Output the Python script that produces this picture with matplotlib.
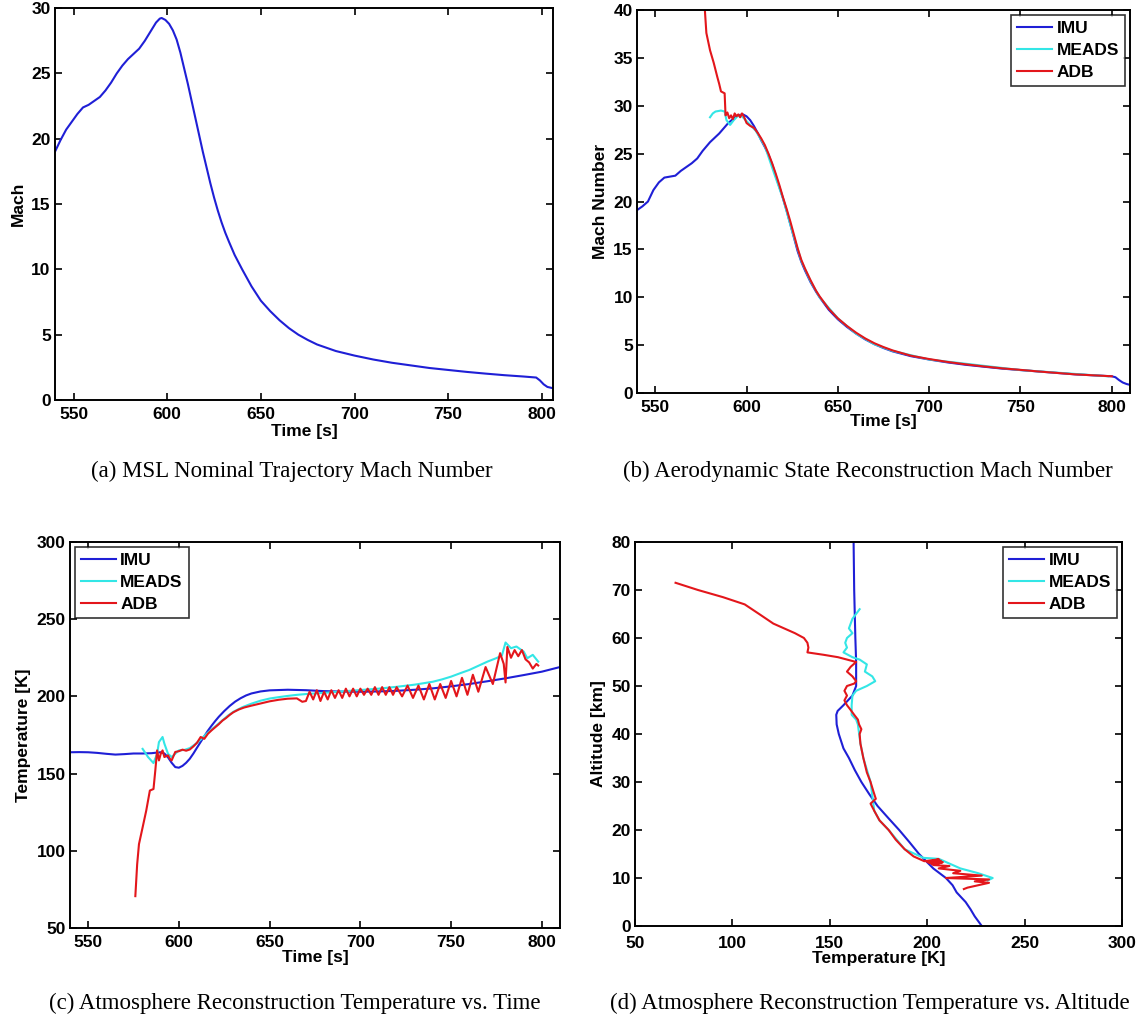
import matplotlib
matplotlib.use("Agg")
import matplotlib.pyplot as plt

# ---------------- data ----------------
# (a) MSL nominal trajectory Mach
a_time = [540, 543, 546, 549, 552, 555, 558, 561, 564, 567, 570, 573, 576, 579, 582, 585, 588, 591,
          594, 596, 597, 599, 601, 603, 605, 607, 609, 611, 613, 615, 617, 619, 621, 623, 625, 627,
          629, 631, 633, 636, 640, 645, 650, 655, 660, 665, 670, 675, 680, 690, 700, 710, 720, 730,
          740, 750, 760, 770, 780, 790, 797, 799, 801, 803, 806]
a_mach = [19.0, 19.9, 20.7, 21.3, 21.9, 22.4, 22.6, 22.9, 23.2, 23.7, 24.3, 25.0, 25.6, 26.1, 26.5,
          26.9, 27.5, 28.2, 28.9, 29.2, 29.25, 29.1, 28.8, 28.3, 27.6, 26.6, 25.4, 24.2, 22.9, 21.6,
          20.3, 19.0, 17.8, 16.6, 15.5, 14.5, 13.6, 12.8, 12.1, 11.1, 10.0, 8.7, 7.6, 6.8, 6.1, 5.5,
          5.0, 4.6, 4.25, 3.75, 3.4, 3.1, 2.85, 2.65, 2.45, 2.3, 2.15, 2.02, 1.9, 1.8, 1.72, 1.5, 1.2,
          1.0, 0.9]

# (b) Aerodynamic state reconstruction Mach
b_imu_t = [540, 543, 546, 549, 552, 555, 558, 561, 564, 567, 570, 573, 576, 580, 585, 590, 595, 598,
           600, 602, 604, 606, 608, 610, 612, 614, 616, 618, 620, 622, 624, 626, 628, 630, 632, 635,
           638, 640, 645, 650, 655, 660, 665, 670, 675, 680, 690, 700, 710, 720, 730, 740, 750, 760,
           770, 780, 790, 800, 802, 804, 806, 808, 810]
b_imu_m = [19.1, 19.5, 20.0, 21.2, 22.0, 22.5, 22.6, 22.7, 23.2, 23.6, 24.0, 24.5, 25.3, 26.2, 27.1,
           28.2, 29.0, 29.1, 28.9, 28.5, 27.9, 27.2, 26.4, 25.7, 24.9, 23.9, 22.7, 21.5, 20.3, 19.0,
           17.6, 16.2, 14.8, 13.7, 12.8, 11.6, 10.6, 10.0, 8.7, 7.7, 6.9, 6.2, 5.6, 5.1, 4.7, 4.35,
           3.85, 3.5, 3.2, 2.95, 2.75, 2.55, 2.4, 2.25, 2.1, 1.95, 1.85, 1.75, 1.65, 1.35, 1.1, 0.95,
           0.85]
b_meads_t = [580, 581.5, 583, 586, 588, 589, 591, 593, 595, 597, 600, 605, 610, 615, 620, 625, 630,
             635, 640, 650, 660, 670, 680, 700, 750, 798]
b_meads_m = [28.8, 29.2, 29.4, 29.5, 29.4, 28.5, 28.0, 28.5, 28.9, 29.0, 28.4, 27.4, 25.8, 23.0,
             20.3, 16.9, 13.8, 11.7, 10.0, 7.8, 6.2, 5.1, 4.4, 3.5, 2.4, 1.75]
b_adb_t = [577, 578, 580, 582, 584, 585, 586, 587, 588, 588.5, 589.5, 590.5, 591.5, 592.5, 593.5,
           594.5, 595.5, 596.5, 597.5, 598.5, 600, 602, 604, 606, 608, 610, 612, 614, 616, 618, 620,
           622, 624, 626, 628, 630, 632, 635, 638, 640, 645, 650, 655, 660, 665, 670, 675, 680, 690,
           700, 710, 720, 730, 740, 750, 760, 770, 780, 790, 800]
b_adb_m = [40.5, 37.6, 35.8, 34.5, 33.0, 32.3, 31.5, 31.4, 31.3, 29.0, 29.3, 28.7, 29.0, 28.6, 29.2,
           28.9, 29.1, 28.8, 29.2, 28.9, 28.2, 27.9, 27.7, 27.2, 26.6, 25.9, 25.0, 24.0, 22.9, 21.7,
           20.4, 19.2, 17.9, 16.5, 15.1, 13.9, 13.0, 11.8, 10.7, 10.1, 8.8, 7.8, 7.0, 6.3, 5.7, 5.2,
           4.8, 4.45, 3.9, 3.55, 3.25, 3.0, 2.78, 2.58, 2.42, 2.25, 2.1, 1.95, 1.85, 1.75]

# (c) Atmosphere reconstruction temperature vs time
c_imu_t = [540, 545, 550, 555, 560, 565, 570, 575, 580, 585, 588, 590, 592, 594, 596, 598, 600, 602,
           604, 606, 608, 610, 612, 614, 616, 618, 620, 622, 625, 628, 631, 634, 637, 640, 645, 650,
           660, 670, 680, 690, 700, 710, 720, 730, 740, 750, 760, 770, 780, 790, 800, 810]
c_imu_T = [163.8, 163.9, 163.8, 163.4, 162.8, 162.3, 162.6, 163.0, 163.0, 163.2, 163.6, 163.8, 163.0,
           160.5, 157.0, 154.2, 153.8, 155.0, 157.0, 159.6, 163.0, 166.8, 170.5, 174.2, 177.8, 181.0,
           184.0, 186.8, 190.5, 193.8, 196.6, 198.8, 200.6, 201.9, 203.2, 203.9, 204.3, 204.0, 203.4,
           203.1, 203.0, 203.2, 203.6, 204.3, 205.2, 206.5, 208.0, 209.8, 211.7, 213.8, 216.0, 219.0]
c_meads_t = [580, 583, 586, 588, 589, 591, 592, 594, 596, 600, 603, 606, 609, 612, 615, 618, 621,
             624, 627, 630, 635, 640, 645, 650, 655, 660, 665, 670, 680, 690, 700, 710, 720, 730,
             740, 745, 750, 755, 760, 765, 770, 775, 778, 780, 783, 786, 790, 792, 795, 798]
c_meads_T = [166.0, 160.7, 156.8, 162.8, 170.4, 173.7, 169.4, 162.8, 160.7, 165.0, 165.3, 166.5,
             169.0, 172.0, 175.5, 178.5, 181.5, 184.5, 187.5, 190.0, 193.0, 195.3, 197.2, 198.6,
             199.5, 200.3, 201.0, 201.5, 202.3, 203.2, 204.1, 205.0, 206.2, 207.6, 209.5, 211.0,
             212.8, 215.0, 217.1, 219.8, 222.5, 224.8, 226.5, 234.9, 231.2, 232.3, 229.0, 224.7,
             226.9, 222.5]
c_adb_t = [576, 577, 578, 580, 582, 584, 586, 587, 588, 589, 590, 591, 592, 594, 595, 596, 598,
           600, 602, 604, 606, 608, 610, 612, 614, 616, 618, 620, 622, 624, 626, 628, 630, 633, 636,
           640, 645, 650, 655, 660, 665, 668,
           670, 672, 674, 676, 678, 680, 682, 684, 686, 688, 690, 692, 694, 696, 698, 700, 702,
           704, 706, 708, 710, 712, 714, 716, 718, 720, 723, 726, 729, 732, 735, 738, 741, 744,
           747, 750, 753, 756, 759, 762, 765, 769, 773, 777, 779, 780, 781, 783, 785, 787, 789,
           791, 793, 795, 797, 798]
c_adb_T = [70.6, 91.2, 104.3, 115.1, 126.0, 139.0, 140.0, 152.0, 165.0, 158.5, 162.8, 165.0, 160.7,
           161.8, 159.6, 158.5, 164.0, 164.5, 165.5, 164.8, 165.6, 167.6, 170.0, 173.7, 172.5, 175.8,
           178.0, 180.0, 182.0, 184.3, 186.0, 188.0, 189.7, 191.5, 192.8, 194.0, 195.4, 196.8, 197.8,
           198.5, 198.7, 196.5,
           197.0, 203.0, 198.0, 204.0, 197.0, 203.0, 198.0, 204.0, 199.0, 204.0, 199.0, 205.0, 200.0,
           205.0, 200.0, 205.0, 201.0, 205.0, 201.0, 206.0, 201.0, 206.0, 201.0, 206.0, 201.0, 206.0,
           200.0, 207.0, 199.0, 207.0, 198.0, 208.0, 198.0, 208.0, 199.0, 210.0, 200.0, 212.0, 201.0,
           214.0, 203.0, 219.0, 208.0, 228.0, 221.0, 209.0, 232.0, 225.0, 230.0, 226.0, 230.0, 224.0,
           222.0, 218.0, 221.0, 220.0]

# (d) Atmosphere reconstruction temperature vs altitude
d_imu_T = [162.2, 162.5, 163.1, 163.5, 163.5, 161.6, 157.0, 154.0, 153.3, 153.5, 154.6, 157.0,
           159.8, 162.8, 166.2, 170.2, 174.5, 180.0, 185.6, 190.8, 195.8, 203.1, 209.6, 213.0,
           215.1, 219.7, 222.2, 224.4, 228.0]
d_imu_h = [80, 70, 60, 55, 50, 48, 46, 44.8, 44, 42, 40, 37, 35, 32.5, 30, 27.5, 25, 22.5, 20, 17.5,
           15, 12, 10, 8.5, 7, 5, 3.5, 2, 0]
d_meads_T = [165.3, 161.6, 159.8, 161.6, 158.8, 157.9, 158.8, 157.0, 161.6, 165.3, 169.0, 168.0,
             171.8, 173.3, 169.0, 163.5, 161.6, 161.2, 161.2, 163.5, 164.4, 165.7, 167.2, 170.9,
             172.8, 175.5, 180.2, 188.4, 198.0, 205.9, 217.0, 226.2, 233.6, 231.0]
d_meads_h = [66, 64, 62, 61, 60, 59, 58, 57, 56, 55.5, 54.5, 53, 52, 51, 50, 49, 48, 46, 44, 43,
             42, 38, 35, 30, 24, 22, 20, 16, 14.2, 14, 12, 11, 10, 9.5]
d_adb_T = [70.8, 82.3, 95.2, 106.3, 113.7, 121.0, 132.1, 136.7, 138.5, 139.0, 138.5, 146.8, 154.2,
           163.5, 160.7, 158.8, 161.6, 163.5, 162.5, 158.8, 157.5, 158.8, 157.5, 158.8, 160.7, 162.5,
           164.4, 165.0, 166.2, 165.3, 165.7, 167.2, 169.0, 170.9, 172.4, 173.6, 170.9, 172.8, 175.5,
           180.2, 183.8, 188.4, 193.0, 198.5, 205.9, 200.0, 206.0, 201.0, 207.0, 202.2, 208.0, 203.0,
           211.4, 205.9, 217.0, 213.3, 228.0, 209.6, 231.7, 224.4, 231.7, 226.2, 220.7, 218.8]
d_adb_h = [71.5, 70, 68.5, 67, 65, 63, 61, 60, 59, 58, 57, 56.5, 56, 55, 54, 53, 52, 51, 50.5, 50,
           49, 48, 47, 46, 45, 44, 43, 42, 41, 40, 38, 35, 32, 30, 28, 26.5, 25.5, 24, 22, 20, 18,
           16, 14.5, 13.5, 13.9, 13.3, 13.8, 13.1, 13.6, 12.9, 13.3, 12.7, 12.5, 12, 11.5, 11, 10.5,
           10, 9.7, 9.3, 9, 8.5, 8, 7.7]

captions = ["(a) MSL Nominal Trajectory Mach Number",
            "(b) Aerodynamic State Reconstruction Mach Number",
            "(c) Atmosphere Reconstruction Temperature vs. Time",
            "(d) Atmosphere Reconstruction Temperature vs. Altitude"]
labels = ["IMU", "MEADS", "ADB"]

# ---------------- style ----------------
BLUE = "#1f1fd6"
CYAN = "#33e6e6"
RED = "#e3161b"
SANS = "Liberation Sans"
SERIF = "Liberation Serif"
TICK_FS = 12.5
LAB_FS = 12.5
LW = 1.5

fig = plt.figure(figsize=(11.44, 10.23), dpi=100)


def style(ax):
    ax.tick_params(direction="in", top=True, right=True, length=5, width=1.2, labelsize=TICK_FS)
    ax.tick_params(axis="x", pad=5)
    ax.tick_params(axis="y", pad=3)
    for lbl in ax.get_xticklabels() + ax.get_yticklabels():
        lbl.set_fontweight("bold")
        lbl.set_fontfamily(SANS)
    for sp in ax.spines.values():
        sp.set_linewidth(1.4)


def legend(ax, loc):
    lg = ax.legend(loc=loc, frameon=True, fancybox=False, edgecolor="black",
                   prop={"family": SANS, "weight": "bold", "size": 12.5},
                   handlelength=2.0, handletextpad=0.25, borderpad=0.35, labelspacing=0.38,
                   borderaxespad=0.3)
    lg.get_frame().set_linewidth(1.2)


def labels_xy(ax, xl, yl, xpad=1.5):
    ax.set_xlabel(xl, fontfamily=SANS, fontweight="bold", fontsize=LAB_FS, labelpad=xpad)
    ax.set_ylabel(yl, fontfamily=SANS, fontweight="bold", fontsize=LAB_FS, labelpad=4)


# (a)
ax = fig.add_axes([0.048, 0.609, 0.4354, 0.383])
ax.plot(a_time, a_mach, color=BLUE, lw=LW)
ax.set_xlim(540, 806)
ax.set_ylim(0, 30)
ax.set_xticks([550, 600, 650, 700, 750, 800])
ax.set_yticks([0, 5, 10, 15, 20, 25, 30])
labels_xy(ax, "Time [s]", "Mach")
style(ax)

# (b)
ax = fig.add_axes([0.5568, 0.6158, 0.431, 0.3744])
ax.plot(b_imu_t, b_imu_m, color=BLUE, lw=LW, label=labels[0])
ax.plot(b_meads_t, b_meads_m, color=CYAN, lw=LW, label=labels[1])
ax.plot(b_adb_t, b_adb_m, color=RED, lw=LW, label=labels[2])
ax.set_xlim(540, 810)
ax.set_ylim(0, 40)
ax.set_xticks([550, 600, 650, 700, 750, 800])
ax.set_yticks([0, 5, 10, 15, 20, 25, 30, 35, 40])
labels_xy(ax, "Time [s]", "Mach Number", xpad=-1)
style(ax)
legend(ax, "upper right")

# (c)
ax = fig.add_axes([0.0612, 0.0929, 0.4283, 0.3773])
ax.plot(c_imu_t, c_imu_T, color=BLUE, lw=LW, label=labels[0])
ax.plot(c_meads_t, c_meads_T, color=CYAN, lw=LW, label=labels[1])
ax.plot(c_adb_t, c_adb_T, color=RED, lw=LW, label=labels[2])
ax.set_xlim(540, 810)
ax.set_ylim(50, 300)
ax.set_xticks([550, 600, 650, 700, 750, 800])
ax.set_yticks([50, 100, 150, 200, 250, 300])
labels_xy(ax, "Time [s]", "Temperature [K]", xpad=0)
style(ax)
legend(ax, "upper left")

# (d)
ax = fig.add_axes([0.5551, 0.0948, 0.4257, 0.3754])
ax.plot(d_imu_T, d_imu_h, color=BLUE, lw=LW, label=labels[0])
ax.plot(d_meads_T, d_meads_h, color=CYAN, lw=LW, label=labels[1])
ax.plot(d_adb_T, d_adb_h, color=RED, lw=LW, label=labels[2])
ax.set_xlim(50, 300)
ax.set_ylim(0, 80)
ax.set_xticks([50, 100, 150, 200, 250, 300])
ax.set_yticks([0, 10, 20, 30, 40, 50, 60, 70, 80])
labels_xy(ax, "Temperature [K]", "Altitude [km]", xpad=0)
style(ax)
ax.tick_params(axis="x", pad=7)
legend(ax, "upper right")

# captions
cap_pos = [(292 / 1144, 1 - 471 / 1023), (868 / 1144, 1 - 471 / 1023),
           (295 / 1144, 1 - 1003 / 1023), (870 / 1144, 1 - 1003 / 1023)]
for (x, y), c in zip(cap_pos, captions):
    fig.text(x, y, c, ha="center", va="center", fontfamily=SERIF, fontsize=16.5)

fig.savefig("out.png", dpi=100)
